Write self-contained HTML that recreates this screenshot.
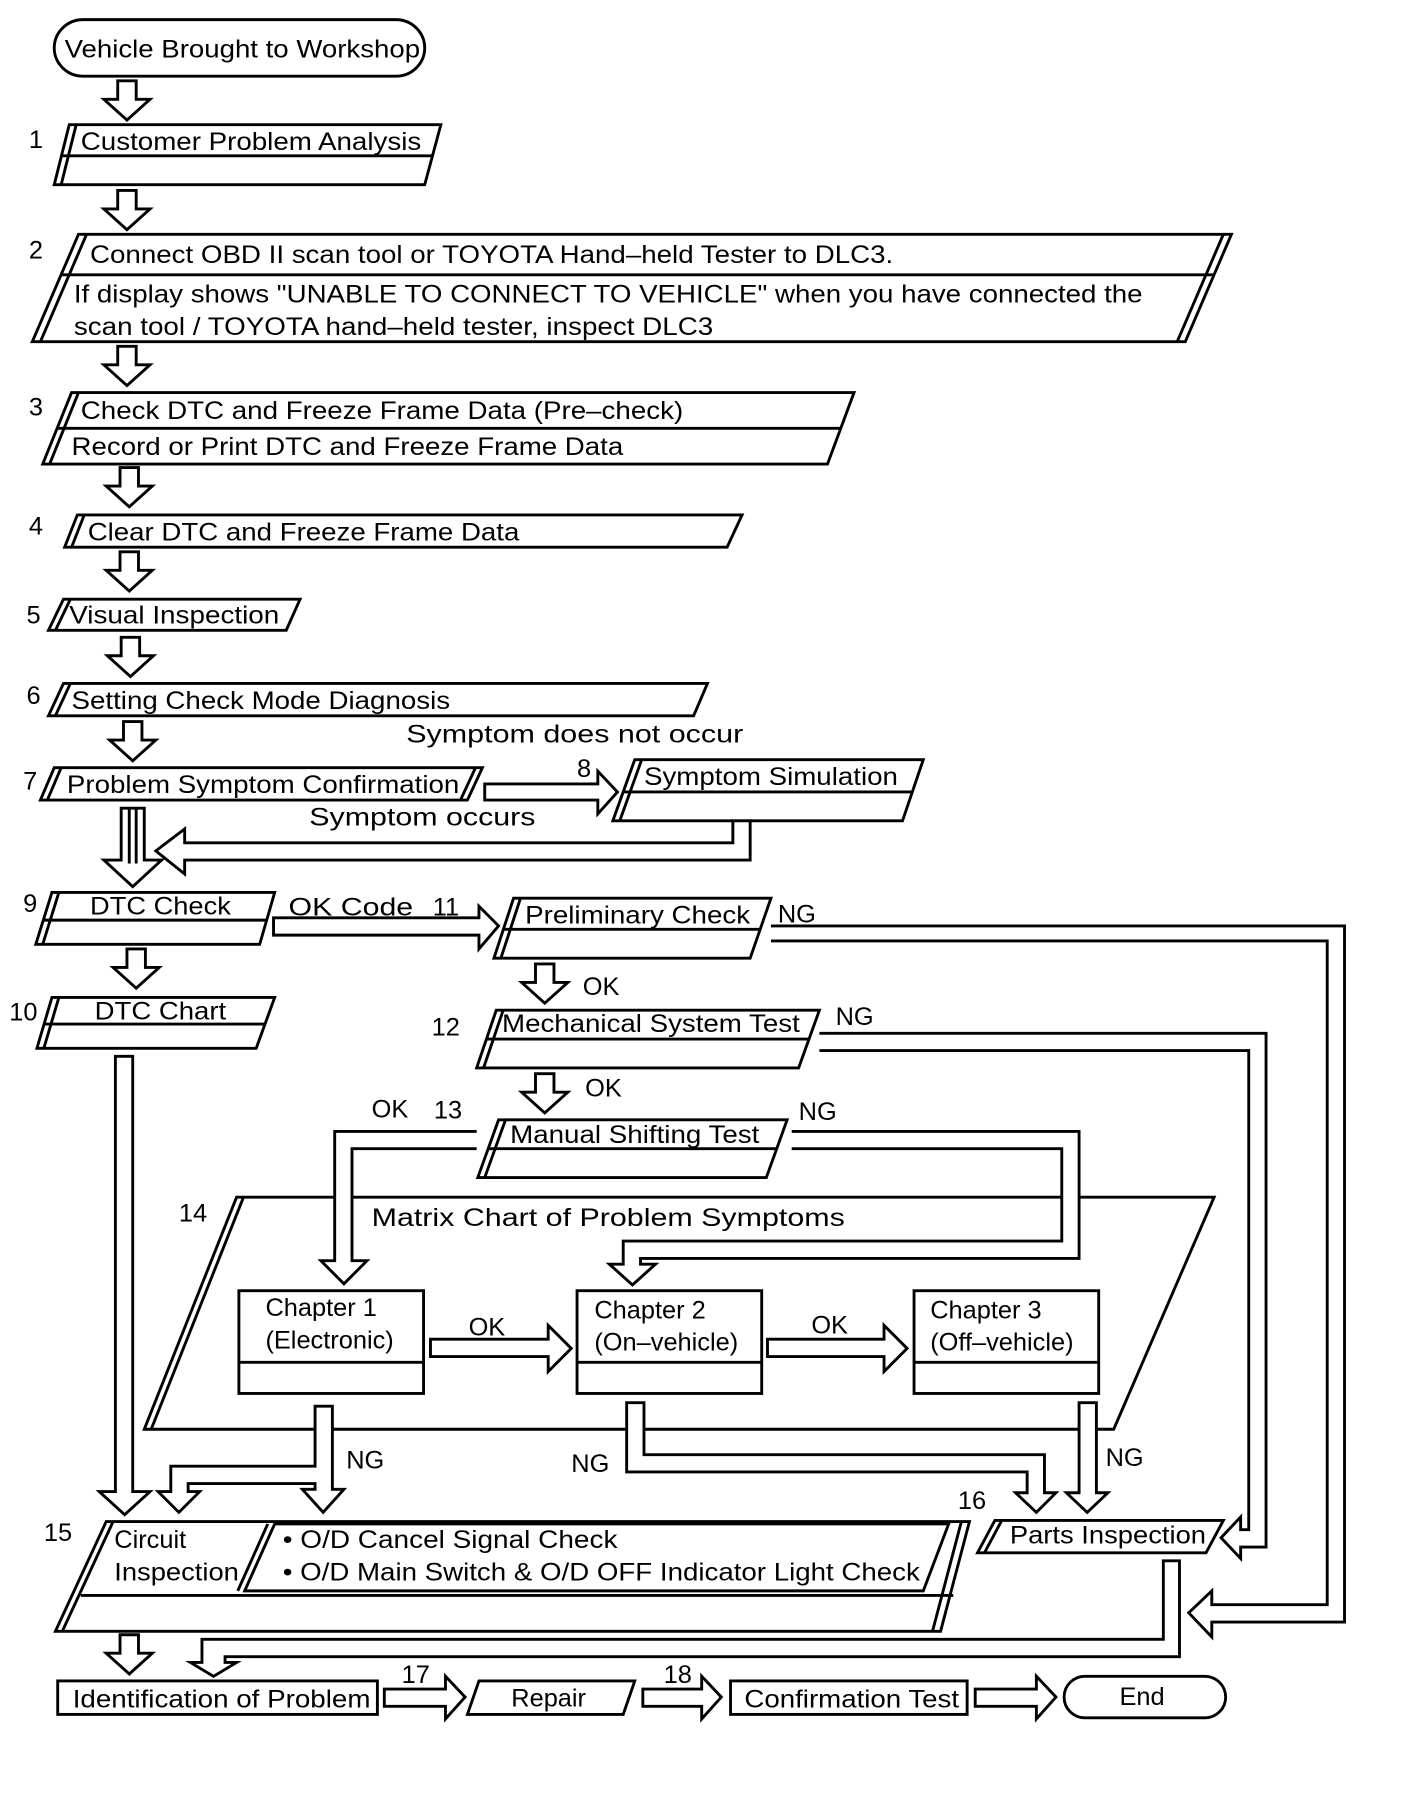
<!DOCTYPE html>
<html><head><meta charset="utf-8"><style>
html,body{margin:0;padding:0;background:#fff}
svg{display:block}
text{font-family:"Liberation Sans",sans-serif;font-size:22px;fill:#000}
</style></head><body>
<svg width="1408" height="1816" viewBox="0 0 1220 1573" preserveAspectRatio="none" xmlns="http://www.w3.org/2000/svg">
<defs>
<path id="ad" d="M-8,0 H8 V16 H20 L0,34 L-20,16 H-8 Z" fill="#fff" stroke="#000" stroke-width="2.5"/>
</defs>
<g fill="none" stroke="#000" stroke-width="2.5" stroke-linejoin="miter">
<!-- start oval -->
<rect x="47" y="17" width="321" height="49" rx="25"/>
<!-- box1 -->
<path d="M60,108 H382 L368,160 H47 Z"/><path d="M66,108 L53,160"/><path d="M54,135 H375"/>
<!-- box2 -->
<path d="M68,203 H1067 L1027,296 H28 Z"/><path d="M75,203 L35,296"/><path d="M1060,203 L1020,296"/><path d="M53,238 H1052"/>
<!-- box3 -->
<path d="M62,340 H740 L717,402 H37 Z"/><path d="M68,340 L43,402"/><path d="M50,371 H728"/>
<!-- box4 -->
<path d="M67,446 H643 L630,474 H56 Z"/><path d="M73,446 L62,474"/>
<!-- box5 -->
<path d="M55,519 H260 L248,546 H42 Z"/><path d="M61,519 L48,546"/>
<!-- box6 -->
<path d="M55,592 H613 L601,620 H42 Z"/><path d="M61,592 L48,620"/>
<!-- box7 -->
<path d="M47,665 H418 L405,693 H35 Z"/><path d="M53,665 L41,693"/><path d="M412,665 L399,693"/>
<!-- box8 -->
<path d="M550,658 H800 L782,711 H531 Z"/><path d="M556,658 L537,711"/><path d="M541,686 H791"/>
<!-- box9 -->
<path d="M45,773 H238 L225,818 H31 Z"/><path d="M51,773 L37,818"/><path d="M38,797 H231"/>
<!-- box10 -->
<path d="M45,864 H238 L222,908 H32 Z"/><path d="M51,864 L38,908"/><path d="M39,887 H230"/>
<!-- box11 -->
<path d="M445,778 H668 L650,830 H428 Z"/><path d="M451,778 L434,830"/><path d="M437,805 H659"/>
<!-- box12 -->
<path d="M430,875 H710 L692,925 H413 Z"/><path d="M436,875 L419,925"/><path d="M422,900 H701"/>
<!-- box13 -->
<path d="M432,970 H682 L664,1020 H414 Z"/><path d="M438,970 L420,1020"/><path d="M423,995 H673"/>
<!-- box14 -->
<path d="M205,1037 H1052 L965,1238 H125 Z"/><path d="M211,1037 L131,1238"/>
<rect x="207" y="1118" width="160" height="89"/><path d="M207,1180 H367"/>
<rect x="500" y="1118" width="160" height="89"/><path d="M500,1180 H660"/>
<rect x="792" y="1118" width="160" height="89"/><path d="M792,1180 H952"/>
<!-- box15 -->
<path d="M92,1318 H840 L815,1413 H48 Z"/><path d="M98,1318 L54,1413"/><path d="M833,1318 L808,1413"/><path d="M70,1382 H826"/>
<path d="M238,1320 H822 L800,1378 H212 Z"/><path d="M232,1320 L206,1378"/>
<!-- box16 -->
<path d="M862,1317 H1060 L1045,1345 H847 Z"/><path d="M868,1317 L853,1345"/>
<!-- bottom row -->
<rect x="50" y="1456" width="277" height="29"/>
<path d="M415,1456 H550 L540,1485 H405 Z"/>
<rect x="633" y="1456" width="205" height="29"/>
<rect x="922" y="1452" width="140" height="36" rx="18"/>
</g>
<g fill="#fff" stroke="#000" stroke-width="2.5" stroke-linejoin="miter">
<use href="#ad" x="110" y="70"/><use href="#ad" x="110" y="165"/><use href="#ad" x="110" y="300"/>
<use href="#ad" x="112" y="405"/><use href="#ad" x="112" y="478"/><use href="#ad" x="113" y="552"/>
<use href="#ad" x="115" y="625"/><use href="#ad" x="118" y="822"/><use href="#ad" x="472" y="835"/>
<use href="#ad" x="472" y="930"/><use href="#ad" x="112" y="1416"/>
<!-- 7->8 -->
<path d="M420,679 H518 V668 L535,686 L518,705 V693 H420 Z"/>
<!-- return from 8 -->
<path d="M635,711 V730 H160 V718 L135,737 L160,757 V745 H650 V711 Z"/>
<!-- big down 7->9 -->
<path d="M105,700 H125 V745 H140 L115,768 L90,745 H105 Z"/><path d="M112,700 V748 M118,700 V748"/>
<!-- 9->11 -->
<path d="M237,795 H415 V785 L432,802 L415,822 V810 H237 Z"/>
<!-- 11 NG -->
<path d="M668,802 H1165 V1405 H1050 V1418 L1030,1397 L1050,1378 V1390 H1150 V815 H668"/>
<!-- 12 NG -->
<path d="M710,895 H1097 V1340 H1075 V1350 L1058,1332 L1075,1314 V1325 H1082 V910 H710"/>
<!-- 13 OK -->
<path d="M413,980 H290 V1092 H278 L298,1112 L318,1092 H305 V995 H413"/>
<!-- 13 NG -->
<path d="M686,980 H935 V1090 H555 V1095 H568 L548,1113 L528,1095 H540 V1075 H920 V995 H686"/>
<!-- DTC chart long -->
<path d="M100,915 H115 V1292 H130 L108,1312 L86,1292 H100 Z"/>
<!-- OK arrows chapters -->
<path d="M373,1160 H475 V1148 L495,1168 L475,1188 V1175 H373 Z"/>
<path d="M665,1160 H766 V1148 L786,1168 L766,1188 V1175 H665 Z"/>
<!-- ch1 NG -->
<path d="M273,1218 H288 V1290 H298 L280,1310 L262,1290 H273 V1285 H163 V1292 H173 L155,1310 L137,1292 H148 V1270 H273 Z"/>
<!-- ch2 NG -->
<path d="M543,1215 H558 V1260 H905 V1293 H915 L898,1310 L880,1293 H890 V1275 H543 Z"/>
<!-- ch3 NG -->
<path d="M935,1215 H950 V1293 H960 L942,1310 L924,1293 H935 Z"/>
<!-- parts -> identification -->
<path d="M1008,1352 H1022 V1435 H195 V1440 H205 L185,1452 L165,1440 H175 V1420 H1008 Z"/>
<!-- bottom arrows -->
<path d="M333,1463 H386 V1452 L403,1470 L386,1489 V1478 H333 Z"/>
<path d="M557,1463 H608 V1452 L625,1470 L608,1489 V1478 H557 Z"/>
<path d="M845,1463 H898 V1452 L915,1470 L898,1489 V1478 H845 Z"/>
</g>
<g>
<text x="56" y="50" textLength="308" lengthAdjust="spacingAndGlyphs">Vehicle Brought to Workshop</text>
<text x="25" y="128">1</text>
<text x="70" y="130" textLength="295" lengthAdjust="spacingAndGlyphs">Customer Problem Analysis</text>
<text x="25" y="224">2</text>
<text x="78" y="228" textLength="696" lengthAdjust="spacingAndGlyphs">Connect OBD II scan tool or TOYOTA Hand–held Tester to DLC3.</text>
<text x="64" y="262" textLength="926" lengthAdjust="spacingAndGlyphs">If display shows "UNABLE TO CONNECT TO VEHICLE" when you have connected the</text>
<text x="64" y="290" textLength="554" lengthAdjust="spacingAndGlyphs">scan tool / TOYOTA hand–held tester, inspect DLC3</text>
<text x="25" y="360">3</text>
<text x="70" y="363" textLength="522" lengthAdjust="spacingAndGlyphs">Check DTC and Freeze Frame Data (Pre–check)</text>
<text x="62" y="394" textLength="478" lengthAdjust="spacingAndGlyphs">Record or Print DTC and Freeze Frame Data</text>
<text x="25" y="463">4</text>
<text x="76" y="468" textLength="374" lengthAdjust="spacingAndGlyphs">Clear DTC and Freeze Frame Data</text>
<text x="23" y="540">5</text>
<text x="60" y="540" textLength="182" lengthAdjust="spacingAndGlyphs">Visual Inspection</text>
<text x="23" y="610">6</text>
<text x="62" y="614" textLength="328" lengthAdjust="spacingAndGlyphs">Setting Check Mode Diagnosis</text>
<text x="352" y="643" textLength="292" lengthAdjust="spacingAndGlyphs">Symptom does not occur</text>
<text x="20" y="684">7</text>
<text x="58" y="687" textLength="340" lengthAdjust="spacingAndGlyphs">Problem Symptom Confirmation</text>
<text x="500" y="673">8</text>
<text x="558" y="680" textLength="220" lengthAdjust="spacingAndGlyphs">Symptom Simulation</text>
<text x="268" y="715" textLength="196" lengthAdjust="spacingAndGlyphs">Symptom occurs</text>
<text x="20" y="790">9</text>
<text x="78" y="792" textLength="122" lengthAdjust="spacingAndGlyphs">DTC Check</text>
<text x="250" y="793" textLength="108" lengthAdjust="spacingAndGlyphs">OK Code</text>
<text x="375" y="793">11</text>
<text x="455" y="800" textLength="195" lengthAdjust="spacingAndGlyphs">Preliminary Check</text>
<text x="674" y="799">NG</text>
<text x="8" y="884">10</text>
<text x="82" y="883" textLength="114" lengthAdjust="spacingAndGlyphs">DTC Chart</text>
<text x="505" y="862">OK</text>
<text x="374" y="897">12</text>
<text x="435" y="894" textLength="258" lengthAdjust="spacingAndGlyphs">Mechanical System Test</text>
<text x="724" y="888">NG</text>
<text x="507" y="950">OK</text>
<text x="322" y="968">OK</text>
<text x="376" y="969">13</text>
<text x="442" y="990" textLength="216" lengthAdjust="spacingAndGlyphs">Manual Shifting Test</text>
<text x="692" y="970">NG</text>
<text x="155" y="1058">14</text>
<text x="322" y="1062" textLength="410" lengthAdjust="spacingAndGlyphs">Matrix Chart of Problem Symptoms</text>
<text x="230" y="1140">Chapter 1</text>
<text x="230" y="1168">(Electronic)</text>
<text x="515" y="1142">Chapter 2</text>
<text x="515" y="1170">(On–vehicle)</text>
<text x="806" y="1142">Chapter 3</text>
<text x="806" y="1170">(Off–vehicle)</text>
<text x="406" y="1157">OK</text>
<text x="703" y="1155">OK</text>
<text x="300" y="1272">NG</text>
<text x="495" y="1275">NG</text>
<text x="958" y="1270">NG</text>
<text x="830" y="1307">16</text>
<text x="875" y="1337" textLength="170" lengthAdjust="spacingAndGlyphs">Parts Inspection</text>
<text x="38" y="1335">15</text>
<text x="99" y="1341">Circuit</text>
<text x="99" y="1369" textLength="108" lengthAdjust="spacingAndGlyphs">Inspection</text>
<text x="245" y="1341" textLength="290" lengthAdjust="spacingAndGlyphs">• O/D Cancel Signal Check</text>
<text x="245" y="1369" textLength="552" lengthAdjust="spacingAndGlyphs">• O/D Main Switch &amp; O/D OFF Indicator Light Check</text>
<text x="63" y="1479" textLength="258" lengthAdjust="spacingAndGlyphs">Identification of Problem</text>
<text x="348" y="1458">17</text>
<text x="443" y="1478">Repair</text>
<text x="575" y="1458">18</text>
<text x="645" y="1479" textLength="186" lengthAdjust="spacingAndGlyphs">Confirmation Test</text>
<text x="970" y="1477">End</text>
</g>
</svg>
</body></html>
